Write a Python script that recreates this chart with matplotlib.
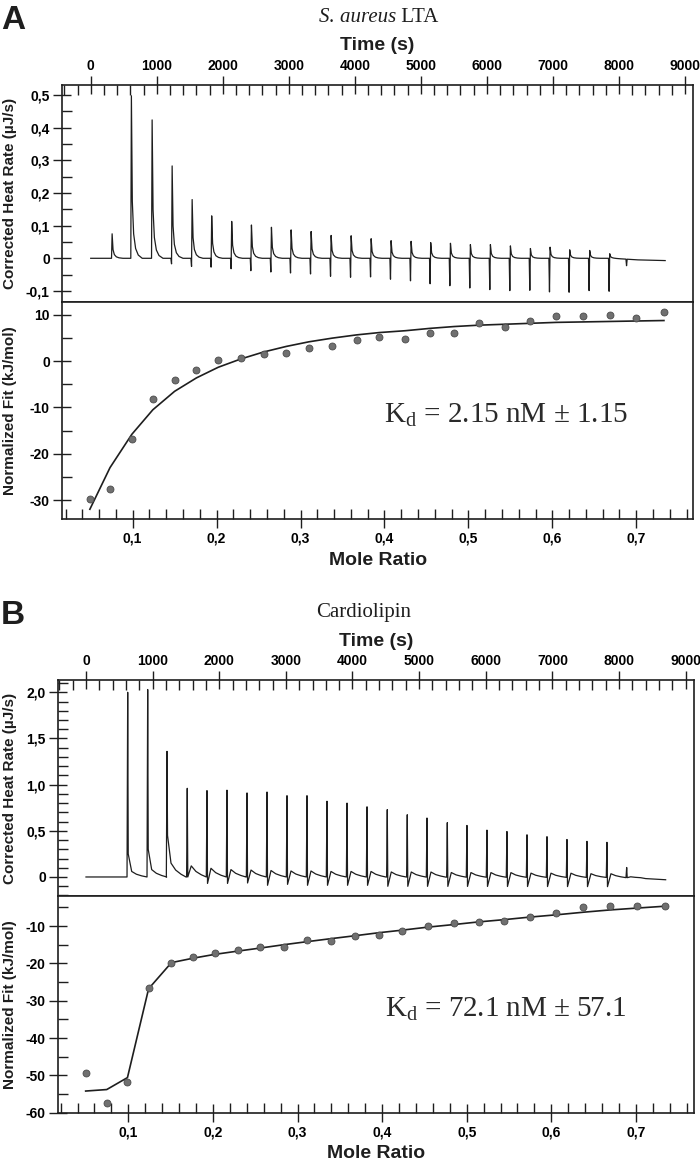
"""
ITC figure: raw thermograms (top) and integrated isotherms (bottom)
for S. aureus LTA (A) and cardiolipin (B).
"""

import matplotlib
matplotlib.use("Agg")
import matplotlib.pyplot as plt
from matplotlib.ticker import MultipleLocator, FuncFormatter
import numpy as np

W, H = 700, 1161

SANS = ["Liberation Sans", "DejaVu Sans"]
SERIF = ["Liberation Serif", "DejaVu Serif"]
plt.rcParams["font.family"] = SANS
plt.rcParams["mathtext.fontset"] = "custom"
plt.rcParams["mathtext.rm"] = "Liberation Serif"
plt.rcParams["mathtext.it"] = "Liberation Serif:italic"

INK = "#1e1e1e"

# ---------------- panel A: S. aureus LTA ----------------
A_INJ_TIME = [318, 610, 924, 1227, 1530, 1826, 2129, 2428, 2731, 3029, 3332,
              3635, 3938, 4241, 4543, 4846, 5143, 5442, 5744, 6047, 6350,
              6653, 6951, 7248, 7551, 7854, 8118]
A_INJ_PEAK = [0.075, 0.498, 0.424, 0.283, 0.18, 0.13, 0.113, 0.102, 0.095,
              0.087, 0.082, 0.07, 0.069, 0.06, 0.054, 0.052, 0.048, 0.046,
              0.042, 0.042, 0.038, 0.03, 0.034, 0.026, 0.024, 0.014, 0.0]
A_INJ_DIP = [0.0, 0.0, 0.0, -0.017, -0.025, -0.027, -0.032, -0.038, -0.042,
             -0.045, -0.048, -0.055, -0.058, -0.057, -0.064, -0.069, -0.078,
             -0.084, -0.091, -0.096, -0.099, -0.098, -0.103, -0.104, -0.099,
             -0.101, -0.02]
A_BASE_TIME = [0, 7900, 8300, 8700]
A_BASE_VALUE = [0.0, 0.0, -0.005, -0.007]

A_RATIO = [0.049, 0.073, 0.099, 0.124, 0.150, 0.176, 0.202, 0.229, 0.256,
           0.283, 0.310, 0.338, 0.367, 0.394, 0.425, 0.454, 0.483, 0.513,
           0.544, 0.574, 0.605, 0.637, 0.669, 0.700, 0.733]
A_HEAT = [-29.8, -27.6, -16.9, -8.1, -4.0, -2.0, 0.3, 0.8, 1.6, 1.7, 2.8,
          3.4, 4.5, 5.3, 4.9, 6.0, 6.0, 8.2, 7.4, 8.7, 9.8, 9.8, 10.0, 9.4,
          10.6]
A_FIT = [-32.0, -23.0, -15.8, -10.5, -6.5, -3.6, -1.3, 0.5, 2.0, 3.2, 4.2,
         5.0, 5.7, 6.2, 6.6, 7.1, 7.5, 7.8, 8.0, 8.2, 8.4, 8.5, 8.6, 8.7, 8.8]
A_KD = r"$\mathrm{K_d}$ = 2.15 nM ± 1.15"

# ---------------- panel B: Cardiolipin ----------------
B_INJ_TIME = [626, 926, 1216, 1520, 1816, 2116, 2417, 2717, 3017, 3317, 3617,
              3918, 4218, 4522, 4822, 5118, 5423, 5718, 6018, 6318, 6619,
              6919, 7219, 7519, 7819, 8115]
B_INJ_PEAK = [2.0, 2.03, 1.36, 0.96, 0.935, 0.94, 0.91, 0.92, 0.88, 0.88,
              0.82, 0.80, 0.76, 0.73, 0.675, 0.64, 0.59, 0.56, 0.51, 0.495,
              0.46, 0.44, 0.41, 0.39, 0.38, 0.11]
B_INJ_DIP = [0.25, 0.3, 0.45, 0.0, -0.07, -0.07, -0.065, -0.09, -0.08, -0.09,
             -0.09, -0.09, -0.09, -0.1, -0.1, -0.1, -0.1, -0.1, -0.1, -0.1,
             -0.1, -0.1, -0.1, -0.1, -0.1, 0.0]
B_INJ_BUMP = [0.06, 0.08, 0.15, 0.12, 0.094, 0.08, 0.075, 0.07, 0.065, 0.065,
              0.06, 0.06, 0.06, 0.055, 0.055, 0.055, 0.05, 0.05, 0.05, 0.05,
              0.045, 0.045, 0.045, 0.04, 0.04, 0.01]
B_BASE_TIME = [0, 4000, 7900, 8350, 8450, 8700]
B_BASE_VALUE = [0.0, 0.0, -0.005, -0.01, -0.025, -0.03]

B_RATIO = [0.0496, 0.0745, 0.099, 0.124, 0.151, 0.177, 0.202, 0.230, 0.256,
           0.284, 0.311, 0.339, 0.368, 0.396, 0.424, 0.454, 0.485, 0.514,
           0.544, 0.575, 0.606, 0.638, 0.669, 0.701, 0.734]
B_HEAT = [-49.5, -57.4, -51.7, -26.7, -20.0, -18.2, -17.3, -16.4, -15.7,
          -15.5, -13.8, -13.9, -12.7, -12.3, -11.3, -10.0, -9.2, -8.9, -8.6,
          -7.7, -6.5, -4.9, -4.6, -4.6, -4.7]
B_FIT = [-54.2, -53.8, -50.6, -26.8, -19.8, -18.6, -17.6, -16.7, -15.9,
         -15.0, -14.2, -13.4, -12.6, -11.8, -11.1, -10.3, -9.6, -8.9, -8.3,
         -7.6, -7.0, -6.3, -5.7, -5.2, -4.7]
B_KD = r"$\mathrm{K_d}$ = 72.1 nM ± 57.1"

TRACE_END = 8700


def trace_a():
    # sharp spikes: small dip, spike, fast return
    t, v = [0.0], [0.0]
    for ti, pk, dp in zip(A_INJ_TIME, A_INJ_PEAK, A_INJ_DIP):
        t += [ti - 12, ti - 3, ti + 6, ti + 20, ti + 40, ti + 70, ti + 110, ti + 170]
        v += [0, dp, pk, 0.35 * pk, 0.15 * pk, 0.06 * pk, 0.02 * pk, 0]
    t.append(TRACE_END)
    v.append(0.0)
    t = np.array(t, float)
    return t, np.array(v) + np.interp(t, A_BASE_TIME, A_BASE_VALUE)


def trace_b():
    # spike, undershoot, slow hump back to baseline
    t, v = [0.0], [0.0]
    for ti, pk, dp, bm in zip(B_INJ_TIME, B_INJ_PEAK, B_INJ_DIP, B_INJ_BUMP):
        t += [ti - 10, ti, ti + 8, ti + 60, ti + 130, ti + 210, ti + 285]
        v += [0, pk, dp, bm, 0.5 * bm, 0.2 * bm, 0]
    t.append(TRACE_END)
    v.append(0.0)
    t = np.array(t, float)
    return t, np.array(v) + np.interp(t, B_BASE_TIME, B_BASE_VALUE)


def add_axes_px(fig, x0, y0, x1, y1):
    return fig.add_axes([x0 / W, 1 - y1 / H, (x1 - x0) / W, (y1 - y0) / H])


def comma(fmt):
    def f(v, pos):
        if abs(v) < 1e-9:
            return "0"
        return (fmt % v).replace(".", ",")
    return FuncFormatter(f)


def frame(ax):
    for s in ax.spines.values():
        s.set_linewidth(1.2)
        s.set_color(INK)


def heat_axes(ax, tlim, ylim, ymaj, ymin, yfmt):
    frame(ax)
    ax.set_xlim(*tlim)
    ax.set_ylim(*ylim)
    ax.xaxis.set_major_locator(MultipleLocator(1000))
    ax.xaxis.set_minor_locator(MultipleLocator(200))
    ax.xaxis.set_major_formatter(FuncFormatter(lambda v, p: "%d" % v))
    ax.yaxis.set_major_locator(MultipleLocator(ymaj))
    ax.yaxis.set_minor_locator(MultipleLocator(ymin))
    ax.yaxis.set_major_formatter(comma(yfmt))
    ax.tick_params(axis="x", which="both", top=True, bottom=False,
                   labeltop=True, labelbottom=False)
    ax.tick_params(axis="y", which="both", left=True, right=False)
    ax.tick_params(which="major", direction="inout", length=13, width=1.0,
                   color=INK, labelsize=10, pad=2.3)
    ax.tick_params(which="minor", direction="in", length=7, width=1.0, color=INK)
    for lab in ax.get_xticklabels() + ax.get_yticklabels():
        lab.set_fontweight("bold")


def fit_axes(ax, xlim, ylim):
    frame(ax)
    ax.set_xlim(*xlim)
    ax.set_ylim(*ylim)
    ax.xaxis.set_major_locator(MultipleLocator(0.1))
    ax.xaxis.set_minor_locator(MultipleLocator(0.02))
    ax.xaxis.set_major_formatter(comma("%.1f"))
    ax.yaxis.set_major_locator(MultipleLocator(10))
    ax.yaxis.set_minor_locator(MultipleLocator(5))
    ax.yaxis.set_major_formatter(FuncFormatter(lambda v, p: "%d" % v))
    ax.tick_params(axis="x", which="both", top=False, bottom=True)
    ax.tick_params(axis="y", which="both", left=True, right=False)
    ax.tick_params(which="major", direction="inout", length=13, width=1.0,
                   color=INK, labelsize=10)
    ax.tick_params(axis="x", which="major", pad=2.6)
    ax.tick_params(axis="y", which="major", pad=2.3)
    ax.tick_params(which="minor", direction="in", length=7, width=1.0, color=INK)
    for lab in ax.get_xticklabels() + ax.get_yticklabels():
        lab.set_fontweight("bold")


def ftext(fig, x, y, s, **kw):
    return fig.text(x / W, 1 - y / H, s, **kw)


def draw_panel(fig, box, letter, title_parts, title_x, trace, tlim, hlim,
               hmaj, hmin, hfmt, ratio, heat, fit, rlim, flim, kd):
    x0, y0, ymid, y1, x1 = box
    ax_top = add_axes_px(fig, x0, y0, x1, ymid)
    ax_bot = add_axes_px(fig, x0, ymid, x1, y1)

    t, v = trace
    ax_top.plot(t, v, color=INK, lw=0.9)
    heat_axes(ax_top, tlim, hlim, hmaj, hmin, hfmt)

    ax_bot.plot(ratio, fit, color=INK, lw=1.2, zorder=2)
    ax_bot.plot(ratio, heat, "o", ms=5.0, mfc="#707070", mec="#4a4a4a",
                mew=0.6, zorder=3)
    fit_axes(ax_bot, rlim, flim)

    xc = (x0 + x1) / 2
    ftext(fig, 1, y0 - 80, letter, fontsize=24, fontweight="bold",
          ha="left", va="top", color=INK)
    # title, with an optional italic part followed by upright text
    prev = ftext(fig, title_x, y0 - 67, title_parts[0][0], family=SERIF,
                 fontsize=15, style=title_parts[0][1], ha="left",
                 va="center", color=INK)
    for txt, st in title_parts[1:]:
        prev = ax_top.annotate(txt, xy=(1, 0), xycoords=prev, family=SERIF,
                               fontsize=15, style=st, ha="left", va="bottom",
                               color=INK, annotation_clip=False)
    ftext(fig, xc, y0 - 39, "Time (s)", fontsize=14, fontweight="bold",
          ha="center", va="center", color=INK)
    ftext(fig, xc, y1 + 41, "Mole Ratio", fontsize=14, fontweight="bold",
          ha="center", va="center", color=INK)
    ftext(fig, 10, (y0 + ymid) / 2, "Corrected Heat Rate (µJ/s)", fontsize=11,
          fontweight="bold", rotation=90, ha="center", va="center", color=INK)
    ftext(fig, 10, (ymid + y1) / 2, "Normalized Fit (kJ/mol)", fontsize=11,
          fontweight="bold", rotation=90, ha="center", va="center", color=INK)
    ftext(fig, 506, ymid + 121, kd, family=SERIF, fontsize=21,
          ha="center", va="baseline", color="#2a2a2a")


fig = plt.figure(figsize=(W / 100, H / 100), dpi=100)

draw_panel(fig, (62, 85, 301.7, 519.3, 693.3), "A",
           [("S. aureus", "italic"), (" LTA", "normal")], 319,
           trace_a(), (-435, 9126), (-0.133, 0.531), 0.1, 0.05, "%.1f",
           A_RATIO, A_HEAT, A_FIT, (0.0158, 0.768), (-34.17, 12.87), A_KD)

draw_panel(fig, (58, 680, 896, 1112.7, 694.3), "B",
           [("Cardiolipin", "normal")], 316,
           trace_b(), (-420, 9130), (-0.206, 2.133), 0.5, 0.1, "%.1f",
           B_RATIO, B_HEAT, B_FIT, (0.0169, 0.769), (-60, -1.96), B_KD)

fig.savefig("out.png", dpi=100)
